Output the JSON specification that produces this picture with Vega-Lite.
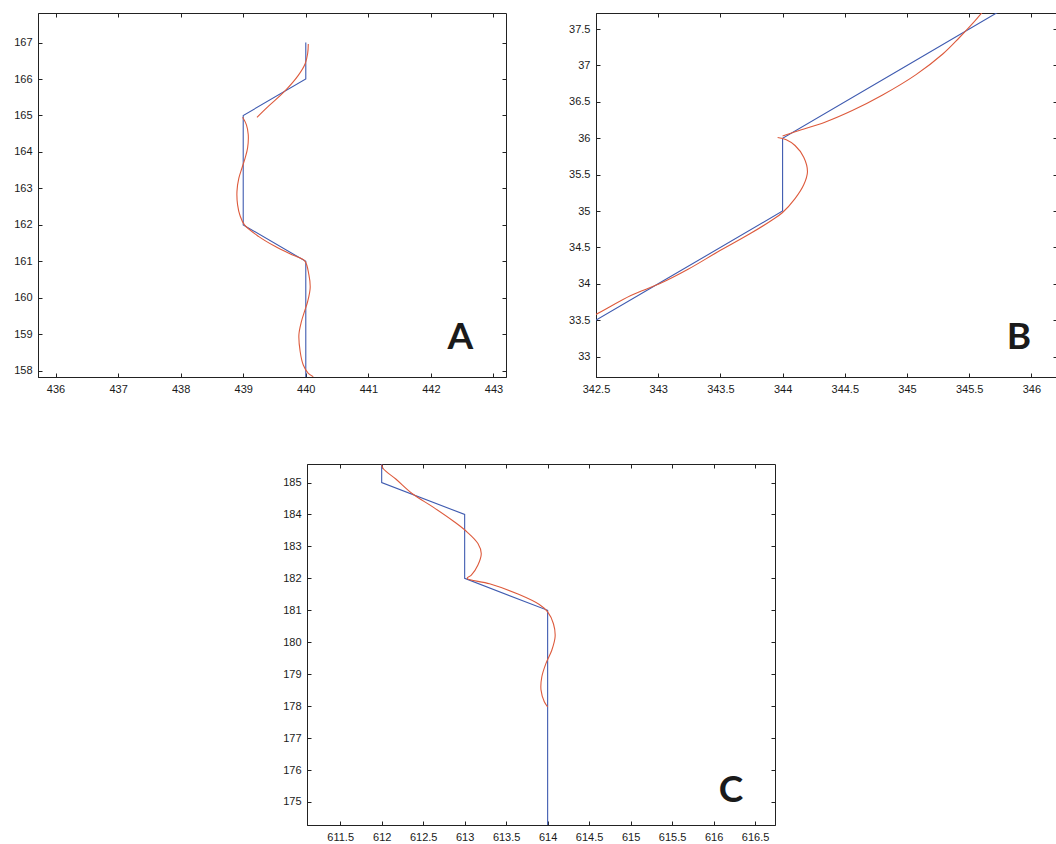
{
  "$schema": "https://vega.github.io/schema/vega-lite/v6.json",
  "padding": {"left": 13, "top": 12, "right": 0, "bottom": 0},
  "background": "white",
  "datasets": {
    "Ab": [
      {"i": 0, "x": 440, "y": 167}, {"i": 1, "x": 440, "y": 166}, {"i": 2, "x": 439, "y": 165},
      {"i": 3, "x": 439, "y": 162}, {"i": 4, "x": 440, "y": 161}, {"i": 5, "x": 440, "y": 157}
    ],
    "Ar": [
      {"s": "r1", "i": 0, "x": 439.22, "y": 164.95}, {"s": "r1", "i": 1, "x": 439.4, "y": 165.25},
      {"s": "r1", "i": 2, "x": 439.66, "y": 165.66}, {"s": "r1", "i": 3, "x": 439.88, "y": 166.1},
      {"s": "r1", "i": 4, "x": 439.99, "y": 166.42}, {"s": "r1", "i": 5, "x": 440.03, "y": 166.7},
      {"s": "r1", "i": 6, "x": 440.04, "y": 166.96},
      {"s": "r2", "i": 0, "x": 438.99, "y": 164.95}, {"s": "r2", "i": 1, "x": 439.05, "y": 164.75},
      {"s": "r2", "i": 2, "x": 439.08, "y": 164.48}, {"s": "r2", "i": 3, "x": 439.07, "y": 164.11},
      {"s": "r2", "i": 4, "x": 439.03, "y": 163.83}, {"s": "r2", "i": 5, "x": 438.98, "y": 163.56},
      {"s": "r2", "i": 6, "x": 438.93, "y": 163.28}, {"s": "r2", "i": 7, "x": 438.9, "y": 162.92},
      {"s": "r2", "i": 8, "x": 438.91, "y": 162.55}, {"s": "r2", "i": 9, "x": 438.95, "y": 162.25},
      {"s": "r2", "i": 10, "x": 439.02, "y": 162.0}, {"s": "r2", "i": 11, "x": 439.25, "y": 161.68},
      {"s": "r2", "i": 12, "x": 439.5, "y": 161.42}, {"s": "r2", "i": 13, "x": 439.78, "y": 161.18},
      {"s": "r2", "i": 14, "x": 439.98, "y": 161.02}, {"s": "r2", "i": 15, "x": 440.05, "y": 160.63},
      {"s": "r2", "i": 16, "x": 440.07, "y": 160.27}, {"s": "r2", "i": 17, "x": 440.03, "y": 159.9},
      {"s": "r2", "i": 18, "x": 439.98, "y": 159.63}, {"s": "r2", "i": 19, "x": 439.93, "y": 159.35},
      {"s": "r2", "i": 20, "x": 439.89, "y": 158.99}, {"s": "r2", "i": 21, "x": 439.91, "y": 158.53},
      {"s": "r2", "i": 22, "x": 439.96, "y": 158.16}, {"s": "r2", "i": 23, "x": 440.04, "y": 157.93},
      {"s": "r2", "i": 24, "x": 440.12, "y": 157.84}
    ],
    "Bb": [
      {"i": 0, "x": 342, "y": 33}, {"i": 1, "x": 343, "y": 34}, {"i": 2, "x": 344, "y": 35},
      {"i": 3, "x": 344, "y": 36}, {"i": 4, "x": 345, "y": 37}, {"i": 5, "x": 346, "y": 38}
    ],
    "Br": [
      {"s": "r1", "i": 0, "x": 342.4, "y": 33.5}, {"s": "r1", "i": 1, "x": 342.5, "y": 33.58},
      {"s": "r1", "i": 2, "x": 342.78, "y": 33.84}, {"s": "r1", "i": 3, "x": 343.01, "y": 34.0},
      {"s": "r1", "i": 4, "x": 343.24, "y": 34.2}, {"s": "r1", "i": 5, "x": 343.48, "y": 34.44},
      {"s": "r1", "i": 6, "x": 343.73, "y": 34.68}, {"s": "r1", "i": 7, "x": 343.91, "y": 34.87},
      {"s": "r1", "i": 8, "x": 344.0, "y": 34.98}, {"s": "r1", "i": 9, "x": 344.1, "y": 35.17},
      {"s": "r1", "i": 10, "x": 344.17, "y": 35.36}, {"s": "r1", "i": 11, "x": 344.2, "y": 35.54},
      {"s": "r1", "i": 12, "x": 344.17, "y": 35.74}, {"s": "r1", "i": 13, "x": 344.1, "y": 35.9},
      {"s": "r1", "i": 14, "x": 344.03, "y": 35.98}, {"s": "r1", "i": 15, "x": 343.96, "y": 36.01},
      {"s": "r2", "i": 0, "x": 344.0, "y": 36.03}, {"s": "r2", "i": 1, "x": 344.12, "y": 36.1},
      {"s": "r2", "i": 2, "x": 344.34, "y": 36.22}, {"s": "r2", "i": 3, "x": 344.56, "y": 36.38},
      {"s": "r2", "i": 4, "x": 344.8, "y": 36.59}, {"s": "r2", "i": 5, "x": 345.07, "y": 36.87},
      {"s": "r2", "i": 6, "x": 345.29, "y": 37.16}, {"s": "r2", "i": 7, "x": 345.42, "y": 37.38},
      {"s": "r2", "i": 8, "x": 345.53, "y": 37.58}, {"s": "r2", "i": 9, "x": 345.62, "y": 37.76}
    ],
    "Cb": [
      {"i": 0, "x": 612, "y": 186}, {"i": 1, "x": 612, "y": 185}, {"i": 2, "x": 613, "y": 184},
      {"i": 3, "x": 613, "y": 182}, {"i": 4, "x": 614, "y": 181}, {"i": 5, "x": 614, "y": 174}
    ],
    "Cr": [
      {"s": "r1", "i": 0, "x": 612.0, "y": 185.56}, {"s": "r1", "i": 1, "x": 612.02, "y": 185.43},
      {"s": "r1", "i": 2, "x": 612.17, "y": 185.11}, {"s": "r1", "i": 3, "x": 612.37, "y": 184.65},
      {"s": "r1", "i": 4, "x": 612.62, "y": 184.23}, {"s": "r1", "i": 5, "x": 612.87, "y": 183.78},
      {"s": "r1", "i": 6, "x": 613.03, "y": 183.45}, {"s": "r1", "i": 7, "x": 613.16, "y": 183.09},
      {"s": "r1", "i": 8, "x": 613.2, "y": 182.78}, {"s": "r1", "i": 9, "x": 613.16, "y": 182.42},
      {"s": "r1", "i": 10, "x": 613.08, "y": 182.1}, {"s": "r1", "i": 11, "x": 613.03, "y": 182.0},
      {"s": "r1", "i": 12, "x": 613.3, "y": 181.83}, {"s": "r1", "i": 13, "x": 613.65, "y": 181.5},
      {"s": "r1", "i": 14, "x": 613.9, "y": 181.18}, {"s": "r1", "i": 15, "x": 614.0, "y": 180.95},
      {"s": "r1", "i": 16, "x": 614.07, "y": 180.58}, {"s": "r1", "i": 17, "x": 614.09, "y": 180.17},
      {"s": "r1", "i": 18, "x": 614.05, "y": 179.75}, {"s": "r1", "i": 19, "x": 613.98, "y": 179.34},
      {"s": "r1", "i": 20, "x": 613.93, "y": 178.92}, {"s": "r1", "i": 21, "x": 613.92, "y": 178.51},
      {"s": "r1", "i": 22, "x": 613.96, "y": 178.14}, {"s": "r1", "i": 23, "x": 614.0, "y": 177.98}
    ]
  },
  "config": {
    "view": {"stroke": "#222", "strokeWidth": 1},
    "axis": {
      "labelFont": "Liberation Sans", "labelFontSize": 11, "labelColor": "#1a1a1a",
      "tickColor": "#222", "domainColor": "#222", "tickSize": -4, "labelPadding": 10,
      "grid": false, "labelFlush": false, "labelOverlap": false, "title": null,
      "domainWidth": 1, "tickWidth": 1
    },
    "text": {"font": "Lato", "fontWeight": "bold", "fontSize": 37, "color": "#1a1a1a", "baseline": "middle", "align": "center"}
  },
  "spacing": 68,
  "vconcat": [
    {
      "spacing": 61,
      "hconcat": [
        {
          "width": 468, "height": 364,
          "resolve": {"axis": {"x": "independent", "y": "independent"}},
          "layer": [
            {
              "data": {"name": "Ab"},
              "mark": {"type": "line", "clip": true, "color": "#3f5bb0", "strokeWidth": 1.1},
              "encoding": {
                "x": {"field": "x", "type": "quantitative", "scale": {"domain": [435.72, 443.2], "nice": false, "zero": false}, "axis": {"orient": "bottom", "values": [436, 437, 438, 439, 440, 441, 442, 443]}},
                "y": {"field": "y", "type": "quantitative", "scale": {"domain": [157.83, 167.81], "nice": false, "zero": false}, "axis": {"orient": "left", "values": [158, 159, 160, 161, 162, 163, 164, 165, 166, 167]}},
                "order": {"field": "i", "type": "quantitative"}
              }
            },
            {
              "data": {"name": "Ar"},
              "mark": {"type": "line", "clip": true, "color": "#dd5a3c", "strokeWidth": 1.1, "interpolate": "catmull-rom"},
              "encoding": {
                "x": {"field": "x", "type": "quantitative", "scale": {"domain": [435.72, 443.2], "nice": false, "zero": false}, "axis": null},
                "y": {"field": "y", "type": "quantitative", "scale": {"domain": [157.83, 167.81], "nice": false, "zero": false}, "axis": null},
                "detail": {"field": "s", "type": "nominal"},
                "order": {"field": "i", "type": "quantitative"}
              }
            },
            {
              "data": {"values": [{"x": 442.47, "y": 158.9, "t": "A"}]},
              "mark": {"type": "text"},
              "encoding": {
                "x": {"field": "x", "type": "quantitative", "scale": {"domain": [435.72, 443.2], "nice": false, "zero": false}, "axis": {"orient": "top", "labels": false, "domain": false, "values": [436, 437, 438, 439, 440, 441, 442, 443]}},
                "y": {"field": "y", "type": "quantitative", "scale": {"domain": [157.83, 167.81], "nice": false, "zero": false}, "axis": {"orient": "right", "labels": false, "domain": false, "values": [158, 159, 160, 161, 162, 163, 164, 165, 166, 167]}},
                "text": {"field": "t"}
              }
            }
          ]
        },
        {
          "width": 461, "height": 364,
          "resolve": {"axis": {"x": "independent", "y": "independent"}},
          "layer": [
            {
              "data": {"name": "Bb"},
              "mark": {"type": "line", "clip": true, "color": "#3f5bb0", "strokeWidth": 1.1},
              "encoding": {
                "x": {"field": "x", "type": "quantitative", "scale": {"domain": [342.5, 346.206], "nice": false, "zero": false}, "axis": {"orient": "bottom", "format": "~f", "values": [342.5, 343, 343.5, 344, 344.5, 345, 345.5, 346]}},
                "y": {"field": "y", "type": "quantitative", "scale": {"domain": [32.72, 37.72], "nice": false, "zero": false}, "axis": {"orient": "left", "format": "~f", "values": [33, 33.5, 34, 34.5, 35, 35.5, 36, 36.5, 37, 37.5]}},
                "order": {"field": "i", "type": "quantitative"}
              }
            },
            {
              "data": {"name": "Br"},
              "mark": {"type": "line", "clip": true, "color": "#dd5a3c", "strokeWidth": 1.1, "interpolate": "catmull-rom"},
              "encoding": {
                "x": {"field": "x", "type": "quantitative", "scale": {"domain": [342.5, 346.206], "nice": false, "zero": false}, "axis": null},
                "y": {"field": "y", "type": "quantitative", "scale": {"domain": [32.72, 37.72], "nice": false, "zero": false}, "axis": null},
                "detail": {"field": "s", "type": "nominal"},
                "order": {"field": "i", "type": "quantitative"}
              }
            },
            {
              "data": {"values": [{"x": 345.9, "y": 33.25, "t": "B"}]},
              "mark": {"type": "text"},
              "encoding": {
                "x": {"field": "x", "type": "quantitative", "scale": {"domain": [342.5, 346.206], "nice": false, "zero": false}, "axis": {"orient": "top", "labels": false, "domain": false, "values": [342.5, 343, 343.5, 344, 344.5, 345, 345.5, 346]}},
                "y": {"field": "y", "type": "quantitative", "scale": {"domain": [32.72, 37.72], "nice": false, "zero": false}, "axis": {"orient": "right", "labels": false, "domain": false, "values": [33, 33.5, 34, 34.5, 35, 35.5, 36, 36.5, 37, 37.5]}},
                "text": {"field": "t"}
              }
            }
          ]
        }
      ]
    },
    {
      "spacing": 0,
      "hconcat": [
        {
          "width": 244, "height": 10,
          "view": {"stroke": null},
          "data": {"values": [{}]},
          "mark": {"type": "point", "opacity": 0}
        },
        {
          "width": 468, "height": 361,
          "resolve": {"axis": {"x": "independent", "y": "independent"}},
          "layer": [
            {
              "data": {"name": "Cb"},
              "mark": {"type": "line", "clip": true, "color": "#3f5bb0", "strokeWidth": 1.1},
              "encoding": {
                "x": {"field": "x", "type": "quantitative", "scale": {"domain": [611.1, 616.74], "nice": false, "zero": false}, "axis": {"orient": "bottom", "format": "~f", "values": [611.5, 612, 612.5, 613, 613.5, 614, 614.5, 615, 615.5, 616, 616.5]}},
                "y": {"field": "y", "type": "quantitative", "scale": {"domain": [174.28, 185.58], "nice": false, "zero": false}, "axis": {"orient": "left", "values": [175, 176, 177, 178, 179, 180, 181, 182, 183, 184, 185]}},
                "order": {"field": "i", "type": "quantitative"}
              }
            },
            {
              "data": {"name": "Cr"},
              "mark": {"type": "line", "clip": true, "color": "#dd5a3c", "strokeWidth": 1.1, "interpolate": "catmull-rom"},
              "encoding": {
                "x": {"field": "x", "type": "quantitative", "scale": {"domain": [611.1, 616.74], "nice": false, "zero": false}, "axis": null},
                "y": {"field": "y", "type": "quantitative", "scale": {"domain": [174.28, 185.58], "nice": false, "zero": false}, "axis": null},
                "detail": {"field": "s", "type": "nominal"},
                "order": {"field": "i", "type": "quantitative"}
              }
            },
            {
              "data": {"values": [{"x": 616.21, "y": 175.35, "t": "C"}]},
              "mark": {"type": "text"},
              "encoding": {
                "x": {"field": "x", "type": "quantitative", "scale": {"domain": [611.1, 616.74], "nice": false, "zero": false}, "axis": {"orient": "top", "labels": false, "domain": false, "values": [611.5, 612, 612.5, 613, 613.5, 614, 614.5, 615, 615.5, 616, 616.5]}},
                "y": {"field": "y", "type": "quantitative", "scale": {"domain": [174.28, 185.58], "nice": false, "zero": false}, "axis": {"orient": "right", "labels": false, "domain": false, "values": [175, 176, 177, 178, 179, 180, 181, 182, 183, 184, 185]}},
                "text": {"field": "t"}
              }
            }
          ]
        }
      ]
    }
  ]
}
